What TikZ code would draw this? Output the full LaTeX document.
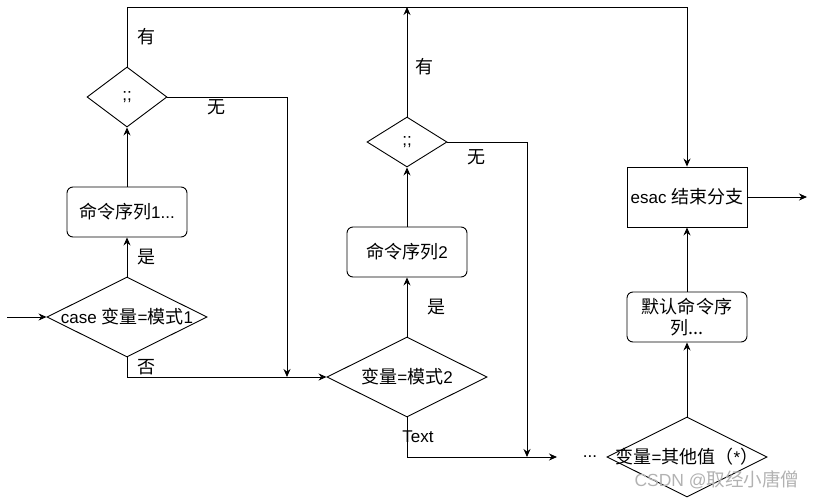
\documentclass[tikz,border=0pt]{standalone}
\usepackage{fontspec}
\setmainfont{Liberation Sans}
\newfontfamily\cjk[Scale=1.06]{Noto Sans CJK SC}
\usetikzlibrary{shapes.geometric,arrows.meta}
\newcommand\zh[1]{{\cjk #1}}
\begin{document}
\begin{tikzpicture}[x=1pt, y=-1pt, line width=0.9pt,
    every node/.style = {font=\fontsize{17}{21}\selectfont, inner sep=0pt},
    box/.style = {draw, rounded corners=6pt, minimum width=120pt, minimum height=50pt, align=center},
    endbox/.style = {draw, minimum width=120pt, minimum height=60pt},
    decision/.style = {draw, diamond, minimum width=160pt, minimum height=80pt},
    tag/.style = {font=\fontsize{17}{21}\selectfont\cjk},
    arrow/.style = {-{Stealth[length=8pt, width=7pt]}}]

    \useasboundingbox (0,0) rectangle (816,498);

    % first branch
    \node[decision] (case) at (127,317) {\makebox[0pt]{case \zh{变量}=\zh{模式}1}};
    \node[box] (cmd1) at (127,212) {\zh{命令序列}1...};
    \node[decision, minimum height=60pt, minimum width=80pt] (semi1) at (127,97) {\makebox[0pt]{;;}};

    % second branch
    \node[decision] (var2) at (407,377) {\makebox[0pt]{\zh{变量}=\zh{模式}2}};
    \node[box] (cmd2) at (407,252) {\zh{命令序列}2};
    \node[decision, minimum height=50pt, minimum width=80pt] (semi2) at (407,142) {\makebox[0pt]{;;}};

    % default branch
    \node[decision] (other) at (687,457) {\makebox[0pt]{\zh{变量}=\zh{其他值（}*\zh{）}}};
    \node[box, font=\fontsize{17}{21}\selectfont\cjk] (dflt) at (687,317) {默认命令序\\列...};
    \node[endbox] (esac) at (687,197) {esac \zh{结束分支}};

    \coordinate (in) at (7,317);
    \coordinate (topR) at (687,7);
    \coordinate (join1) at (287,377);
    \coordinate (join2) at (527,457);
    \coordinate (next) at (557,457);
    \coordinate (out) at (807,197);

    \draw[arrow] (in) -- (case.west);
    \draw[arrow] (case.north) -- (cmd1.south);
    \draw[arrow] (cmd1.north) -- (semi1.south);
    \draw[arrow] (semi1.north) |- (topR) -- (esac.north);
    \draw[arrow] (semi1.east) -| (join1);
    \draw[arrow] (case.south) |- (var2.west);
    \draw[arrow] (var2.north) -- (cmd2.south);
    \draw[arrow] (cmd2.north) -- (semi2.south);
    \draw[arrow] (semi2.north) -- (semi2.north |- topR);
    \draw[arrow] (semi2.east) -| (join2);
    \draw[arrow] (var2.south) |- (next);
    \draw[arrow] (other.north) -- (dflt.south);
    \draw[arrow] (dflt.north) -- (esac.south);
    \draw[arrow] (esac.east) -- (out);

    % labels
    \node[tag] (y1) at (147,37) {有};
    \node[tag] (n1) at (217,107) {无};
    \node[tag] (s1) at (147,257) {是};
    \node[tag] (f1) at (147,367) {否};
    \node[tag] (y2) at (425,67) {有};
    \node[tag] (n2) at (477,157) {无};
    \node[tag] (s2) at (437,307) {是};
    \node (t2) at (418,437) {Text};
    \node (dots) at (590,457) {...};

    \node[text=black!30, font=\fontsize{17.5}{20}\selectfont] (mark) at (717,480) {CSDN @\zh{取经小唐僧}};

\end{tikzpicture}
\end{document}
